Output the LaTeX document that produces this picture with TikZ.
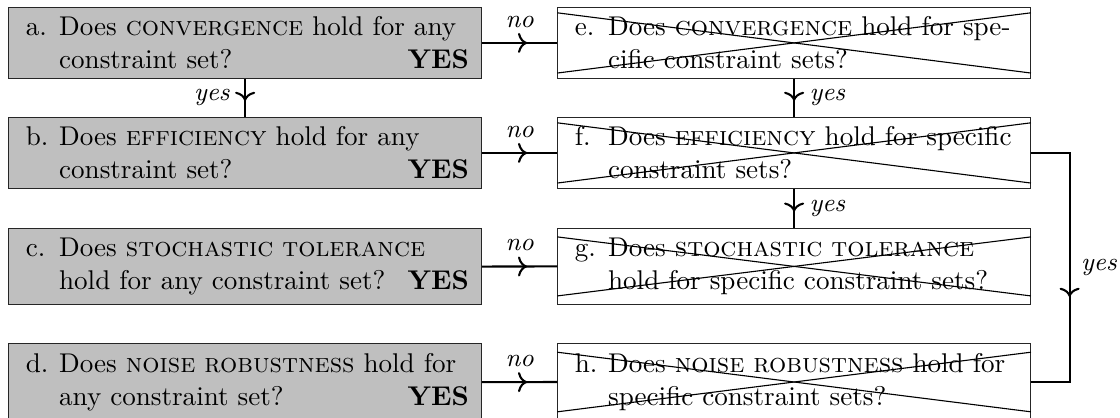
\documentclass[tikz,border=0pt]{standalone}
\usetikzlibrary{decorations.markings,arrows.meta}
\tikzset{
  qbox/.style={draw=black!85, line width=0.4pt, rectangle, anchor=north west,
    text width=161.1pt, inner xsep=4.5pt, inner ysep=3.4pt, align=left,
    font=\fontsize{9.75}{11.9}\selectfont},
  anybox/.style={qbox, fill=black!25},
  specbox/.style={qbox, fill=white},
  conn/.style={line width=0.75pt},
  midarrow/.style={postaction={decorate}, decoration={markings, mark=at position #1 with {\arrow{To[length=3.3pt,width=7.2pt]}}}},
  lab/.style={inner sep=3.2pt, font=\fontsize{9.2}{11}\selectfont\itshape},
  xline/.style={line width=0.4pt},
}
\newcommand{\qlab}[1]{\makebox[13.6pt][l]{\hspace{1.6pt}#1}}
\newcommand{\qind}{\hspace*{13.6pt}}
\newcommand{\yesmark}{\hspace{0pt plus 1filll}\textbf{YES}}
\begin{document}
\begin{tikzpicture}[x=0.36pt, y=-0.36pt]
\useasboundingbox (0,0) rectangle (1120,417);
% left column
\node[anybox] (a) at (8.3,6.7) {\qlab{a.}\mbox{Does \textsc{convergence} hold for any}\\\qind constraint set?\yesmark};
\node[anybox] (b) at (8.3,116.7) {\qlab{b.}\mbox{Does \textsc{efficiency} hold for any}\\\qind constraint set?\yesmark};
\node[anybox] (c) at (8.3,228.0) {\qlab{c.}\mbox{Does \textsc{stochastic tolerance}}\\\qind hold for any constraint set?\yesmark};
\node[anybox] (d) at (8.3,343.3) {\qlab{d.}\mbox{Does \textsc{noise robustness} hold for}\\\qind any constraint set?\yesmark};
% right column
\node[specbox] (e) at (557.3,6.7) {\qlab{e.}\mbox{Does \textsc{convergence} hold for spe-}\\\qind\mbox{cific constraint sets?}};
\node[specbox] (f) at (557.3,116.7) {\qlab{f.}\mbox{Does \textsc{efficiency} hold for specific}\\\qind\mbox{constraint sets?}};
\node[specbox] (g) at (557.3,228.0) {\qlab{g.}\mbox{Does \textsc{stochastic tolerance}}\\\qind\mbox{hold for specific constraint sets?}};
\node[specbox] (h) at (557.3,343.3) {\qlab{h.}\mbox{Does \textsc{noise robustness} hold for}\\\qind\mbox{specific constraint sets?}};
% crosses
\foreach \n/\s in {e/2.2pt,f/2.2pt,g/3.2pt,h/3.2pt} {
  \draw[xline] ([yshift=-\s]\n.north west) -- ([yshift=\s]\n.south east);
  \draw[xline] ([yshift=\s]\n.south west) -- ([yshift=-\s]\n.north east);
}
% connectors
\draw[conn, midarrow=0.6] (a.east) -- node[lab, above=2pt]{no} (e.west);
\draw[conn, midarrow=0.6] (b.east) -- node[lab, above=2pt]{no} (f.west);
\draw[conn, midarrow=0.6] (c.east) -- node[lab, above=2pt]{no} (g.west);
\draw[conn, midarrow=0.6] (d.east) -- node[lab, above=2pt]{no} (h.west);
\draw[conn, midarrow=0.58] (a.south) -- node[lab, left=2pt]{yes} (b.north);
\draw[conn, midarrow=0.58] (e.south) -- node[lab, right=2pt]{yes} (f.north);
\draw[conn, midarrow=0.58] (f.south) -- node[lab, right=2pt]{yes} (g.north);
\draw[conn, midarrow=0.596] (f.east) -- ++(38.7,0) coordinate (fr) |- node[lab, right=0.6pt, pos=0.25]{yes} (h.east);
\end{tikzpicture}
\end{document}
